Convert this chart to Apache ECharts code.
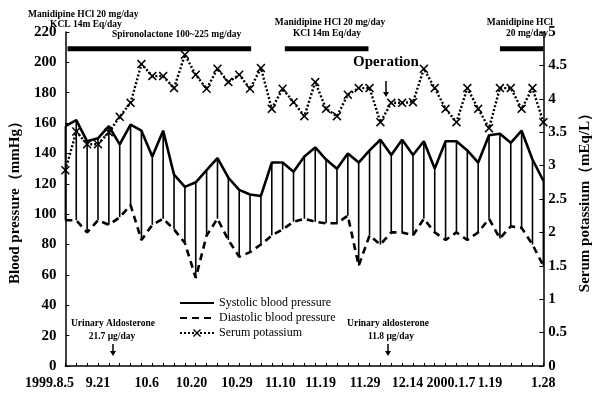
<!DOCTYPE html>
<html><head><meta charset="utf-8">
<script src="https://cdn.jsdelivr.net/npm/echarts@6/dist/echarts.min.js"></script>
<style>html,body{margin:0;padding:0;background:#fff}#c{width:601px;height:396px}</style>
</head><body><div id="c"></div>
<script>
// measurement index 0..44
const systolic = [158,162,148,150,158,146,159,155,138,155,126,118,121,129,137,124,116,113,112,134,134,128,138,144,136,130,140,134,142,149,139,149,139,148,130,148,148,142,134,152,153,147,155,136,122];
const diastolic = [96,96,88,96,93,98,106,83,93,97,90,81,58,86,97,83,72,75,80,86,90,95,97,95,94,94,99,66,86,80,88,88,86,97,88,83,88,83,88,97,84,92,91,80,66];
const potassium = [2.93,3.51,3.32,3.32,3.5,3.73,3.94,4.52,4.34,4.34,4.16,4.66,4.36,4.15,4.45,4.25,4.36,4.15,4.46,3.85,4.15,3.95,3.74,4.25,3.85,3.74,4.06,4.16,4.16,3.65,3.94,3.94,3.95,4.45,4.16,3.85,3.65,4.16,3.85,3.56,4.16,4.16,3.85,4.16,3.65];
const dateLabels = ['1999.8.5','9.21','10.6','10.20','10.29','11.10','11.19','11.29','12.14','2000.1.7','1.19','1.28'];
const dateLabelPos = [0,3,7.5,11.6,15.8,19.8,23.5,27.6,31.5,35.5,39.1,44];
const drugStart = [0.2,20.2,40];
const drugEnd = [17.1,27.9,44];
const drugLevel = 209;

const SERIF = "'Liberation Serif','DejaVu Serif',serif";
const xIdx = systolic.map((_, i) => i);
const chart = echarts.init(document.getElementById('c'), null, {renderer:'canvas'});
const xSym = 'path://M0,1.2L1.2,0L5,3.8L8.8,0L10,1.2L6.2,5L10,8.8L8.8,10L5,6.2L1.2,10L0,8.8L3.8,5Z';
const lbl = {fontFamily:SERIF, fontWeight:'bold', fontSize:15, color:'#000'};
const small = {fontFamily:SERIF, fontWeight:'bold', fontSize:9.5, fill:'#000'};

function txt(text, x, y, style, align) {
  return {type:'text', x:x, y:y, style:Object.assign({text:text, textAlign:align||'left', textVerticalAlign:'middle'}, style)};
}
function arrow(x, y1, y2) {
  return [
    {type:'line', shape:{x1:x, y1:y1, x2:x, y2:y2-4}, style:{stroke:'#000', lineWidth:1.5}},
    {type:'polygon', shape:{points:[[x-3,y2-5],[x+3,y2-5],[x,y2]]}, style:{fill:'#000'}}
  ];
}

chart.setOption({
  animation:false,
  backgroundColor:'#fff',
  grid:{left:63, right:48, top:32, bottom:30},
  legend:{
    orient:'vertical', left:174, top:292, itemGap:3, itemWidth:34, itemHeight:10,
    textStyle:{fontFamily:SERIF, fontSize:12, color:'#000'},
    data:[
      {name:'Systolic blood pressure', itemStyle:{opacity:0}},
      {name:'Diastolic blood pressure', itemStyle:{opacity:0}},
      {name:'Serum potassium'}
    ]
  },
  xAxis:{
    type:'value', min:0, max:44,
    axisLine:{lineStyle:{color:'#000', width:1.5}},
    axisTick:{inside:true, length:3, customValues:xIdx, lineStyle:{color:'#000'}},
    splitLine:{show:false},
    axisLabel:Object.assign({}, lbl, {
      customValues:dateLabelPos, margin:10, fontSize:14,
      formatter:function(v){
        const k = dateLabelPos.indexOf(v);
        const t = k >= 0 ? dateLabels[k] : '';
        return k === 0 ? '{f|' + t + '}' : t;
      },
      rich:{f:{fontFamily:SERIF, fontWeight:'bold', fontSize:14, color:'#000', padding:[0,32,0,0]}}
    })
  },
  yAxis:[
    {type:'value', min:0, max:220, interval:20,
     name:'Blood pressure\uFF08mmHg\uFF09', nameLocation:'middle', nameGap:41, nameRotate:90,
     nameTextStyle:{fontFamily:SERIF, fontWeight:'bold', fontSize:15, color:'#000'},
     axisLine:{show:true, lineStyle:{color:'#000', width:1.5}},
     axisTick:{show:true, inside:true, length:4, lineStyle:{color:'#000'}},
     splitLine:{show:false},
     axisLabel:Object.assign({}, lbl, {margin:9})},
    {type:'value', min:0, max:5, interval:0.5, position:'right',
     name:'Serum potassium\uFF08mEq/L\uFF09', nameLocation:'middle', nameGap:33, nameRotate:90,
     nameTextStyle:{fontFamily:SERIF, fontWeight:'bold', fontSize:15, color:'#000'},
     axisLine:{show:true, lineStyle:{color:'#000', width:1.5}},
     axisTick:{show:true, inside:true, length:4, lineStyle:{color:'#000'}},
     splitLine:{show:false},
     axisLabel:Object.assign({}, lbl, {margin:5})}
  ],
  series:[
    {name:'connectors', type:'custom', yAxisIndex:0, silent:true,
     data:xIdx.map(i => [i, systolic[i], diastolic[i]]),
     encode:{x:0, y:[1,2]},
     renderItem:function(params, api){
       const a = api.coord([api.value(0), api.value(1)]);
       const b = api.coord([api.value(0), api.value(2)]);
       return {type:'line', shape:{x1:a[0], y1:a[1], x2:b[0], y2:b[1]}, style:{stroke:'#000', lineWidth:1.6}};
     }},
    {name:'drugs', type:'custom', yAxisIndex:0, silent:true,
     data:drugStart.map((s,k) => [s, drugEnd[k], drugLevel]),
     encode:{x:[0,1], y:2},
     renderItem:function(params, api){
       const a = api.coord([api.value(0), api.value(2)]);
       const b = api.coord([api.value(1), api.value(2)]);
       return {type:'rect', shape:{x:a[0], y:a[1]-2.5, width:b[0]-a[0], height:5}, style:{fill:'#000'}};
     }},
    {name:'Systolic blood pressure', type:'line', yAxisIndex:0, showSymbol:false, symbol:'none',
     data:xIdx.map(i => [i, systolic[i]]),
     lineStyle:{color:'#000', width:2.6}, itemStyle:{color:'#000'}},
    {name:'Diastolic blood pressure', type:'line', yAxisIndex:0, showSymbol:false, symbol:'none',
     data:xIdx.map(i => [i, diastolic[i]]),
     lineStyle:{color:'#000', width:2.6, type:[7,5]}, itemStyle:{color:'#000'}},
    {name:'Serum potassium', type:'line', yAxisIndex:1, symbol:xSym, symbolSize:9,
     data:xIdx.map(i => [i, potassium[i]]),
     lineStyle:{color:'#000', width:2.4, type:[2,2]}, itemStyle:{color:'#000'}}
  ],
  graphic:[].concat(
    [txt('Manidipine HCl 20 mg/day', 28, 15, small),
     txt('KCL 14m Eq/day', 50, 25, small),
     txt('Spironolactone 100~225 mg/day', 112, 35, small),
     txt('Manidipine HCl 20 mg/day', 330, 23, small, 'center'),
     txt('KCl 14m Eq/day', 327, 34, small, 'center'),
     txt('Manidipine HCl', 553, 23, small, 'right'),
     txt('20 mg/day', 548, 34, small, 'right'),
     txt('Operation', 386, 62, {fontFamily:SERIF, fontWeight:'bold', fontSize:15, fill:'#000'}, 'center'),
     txt('Urinary Aldosterone', 113, 324, small, 'center'),
     txt('21.7 \u03BCg/day', 112, 337, small, 'center'),
     txt('Urinary aldosterone', 388, 324, small, 'center'),
     txt('11.8 \u03BCg/day', 391, 337, small, 'center')],
    arrow(386, 81, 97), arrow(113, 344, 356), arrow(388, 344, 356)
  )
});
</script></body></html>
